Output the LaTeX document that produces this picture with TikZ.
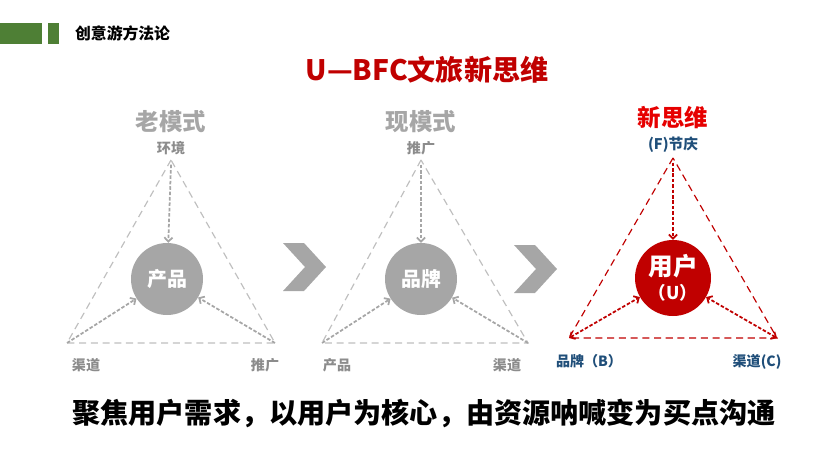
\documentclass[tikz,border=0pt]{standalone}
\usepackage{fontspec}
\setmainfont{Noto Sans CJK SC}
\usetikzlibrary{arrows.meta}

\definecolor{leaf}{HTML}{4E7F35}
\definecolor{edgegray}{HTML}{BFBFBF}
\definecolor{hubgray}{HTML}{A6A6A6}
\definecolor{textgray}{HTML}{8C8C8C}
\definecolor{newred}{HTML}{C00000}
\definecolor{brightred}{HTML}{E60000}
\definecolor{labelblue}{HTML}{1F4E79}

\tikzset{
  edge/.style={dash pattern=on 6pt off 4pt, line width=1pt},
  flow/.style={dash pattern=on 3pt off 1.6pt, line width=1.5pt, -{Straight Barb[length=3.5pt,width=7pt]}},
  hub/.style={circle, inner sep=0pt, minimum size=2.16cm, text=white, font=\fontsize{17}{20}\selectfont\bfseries},
  modelname/.style={font=\fontsize{20}{23}\selectfont\bfseries},
  corner/.style={font=\fontsize{12}{14}\selectfont\bfseries},
  chevron/.style={fill=hubgray, draw=none}
}

\begin{document}
\begin{tikzpicture}[x=0.03cm, y=-0.03cm]
  \useasboundingbox (0,0) rectangle (840,473);

  % header
  \fill[leaf] (0,23) rectangle (42,44);
  \fill[leaf] (48,23) rectangle (59,44);
  \node[anchor=west, font=\fontsize{13.5}{15}\selectfont\bfseries] (head) at (71,33.5) {创意游方法论};
  \node[text=newred, font=\fontsize{24}{28}\selectfont\bfseries] (title) at (427,70) {U—BFC文旅新思维};

  % old model
  \coordinate (a1) at (171,160);
  \coordinate (b1) at (67,343);
  \coordinate (c1) at (275,343);
  \draw[edge, edgegray] (a1) -- (b1) -- (c1) -- cycle;
  \node[hub, fill=hubgray] (p1) at (167,279) {产品};
  \draw[flow, hubgray] ([yshift=-4pt]a1) -- (p1);
  \draw[flow, hubgray] (b1) -- (p1);
  \draw[flow, hubgray] (c1) -- (p1);
  \node[modelname, text=hubgray] (m1) at (171,122) {老模式};
  \node[corner, text=textgray, font=\fontsize{12}{14}\selectfont\bfseries] (t1) at (171,148) {环境};
  \node[corner, text=textgray] (l1) at (86,365) {渠道};
  \node[corner, text=textgray] (r1) at (265,365) {推广};

  % chevrons
  \fill[chevron] (283,243) -- (304,243) -- (326,267) -- (304,291) -- (283,291) -- (305,267) -- cycle;
  \fill[chevron] (514,245) -- (535,245) -- (557,269) -- (535,293) -- (514,293) -- (536,269) -- cycle;

  % current model
  \coordinate (a2) at (421,160);
  \coordinate (b2) at (322,343);
  \coordinate (c2) at (528,343);
  \draw[edge, edgegray] (a2) -- (b2) -- (c2) -- cycle;
  \node[hub, fill=hubgray] (p2) at (421,279) {品牌};
  \draw[flow, hubgray] ([yshift=-4pt]a2) -- (p2);
  \draw[flow, hubgray] (b2) -- (p2);
  \draw[flow, hubgray] (c2) -- (p2);
  \node[modelname, text=hubgray] (m2) at (421,122) {现模式};
  \node[corner, text=textgray, font=\fontsize{12}{14}\selectfont\bfseries] (t2) at (421,148) {推广};
  \node[corner, text=textgray] (l2) at (337,365) {产品};
  \node[corner, text=textgray] (r2) at (507,365) {渠道};

  % new thinking
  \coordinate (a3) at (673,158);
  \coordinate (b3) at (569,338);
  \coordinate (c3) at (777,338);
  \draw[edge, newred] (a3) -- (b3) -- (c3) -- cycle;
  \node[hub, fill=newred, align=center, minimum size=2.28cm, font=\fontsize{21}{22}\selectfont\bfseries] (p3) at (673,278) {用户\\[-2pt]{\fontsize{15}{17}\selectfont（U）}};
  \draw[flow, newred] ([yshift=-4pt]a3) -- (p3);
  \draw[flow, newred, {Straight Barb[length=3.5pt,width=7pt]}-{Straight Barb[length=3.5pt,width=7pt]}] (b3) -- (p3);
  \draw[flow, newred, {Straight Barb[length=3.5pt,width=7pt]}-{Straight Barb[length=3.5pt,width=7pt]}] (c3) -- (p3);
  \node[modelname, text=brightred] (m3) at (673,118) {新思维};
  \node[corner, text=labelblue, font=\fontsize{12.5}{14}\selectfont\bfseries] (t3) at (673,145) {(F)节庆};
  \node[corner, text=labelblue] (l3) at (589,361) {品牌（B）};
  \node[corner, text=labelblue] (r3) at (757,362) {渠道(C)};

  % slogan
  \node[font=\fontsize{24}{28}\selectfont\bfseries] (slogan) at (424,413) {聚焦用户需求，以用户为核心，由资源呐喊变为买点沟通};
\end{tikzpicture}
\end{document}
